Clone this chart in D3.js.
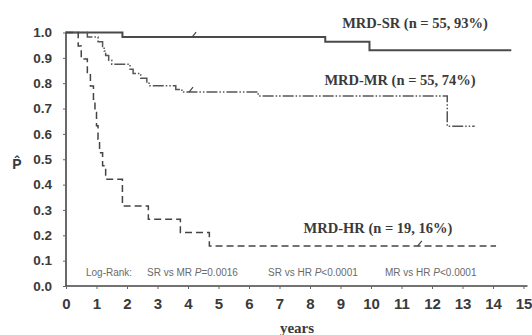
<!DOCTYPE html>
<html>
<head>
<meta charset="utf-8">
<script src="https://cdn.jsdelivr.net/npm/d3@7"></script>
<style>
  html, body { margin: 0; padding: 0; background: #fff; }
  svg { display: block; }
</style>
</head>
<body>
<svg id="chart" width="532" height="335"></svg>
<script>
// ---- data ----
const xTicks = [0,1,2,3,4,5,6,7,8,9,10,11,12,13,14,15];
const yTicks = [0.0,0.1,0.2,0.3,0.4,0.5,0.6,0.7,0.8,0.9,1.0];

const srTimes = [0, 1.85, 8.5, 9.95, 14.6];
const srSurv  = [1.0, 0.982, 0.964, 0.93, 0.93];
const srCensor = [[4.2, 0.982]];

const mrTimes = [0, 0.7, 1.05, 1.2, 1.25, 1.3, 1.4, 1.5, 2.1, 2.2, 2.45, 2.65, 2.75, 3.6, 3.8, 6.3, 12.5, 13.4];
const mrSurv  = [1.0, 0.982, 0.964, 0.945, 0.927, 0.909, 0.891, 0.875, 0.855, 0.838, 0.82, 0.80, 0.79, 0.775, 0.765, 0.75, 0.63, 0.63];
const mrCensor = [[4.1, 0.765]];

const hrTimes = [0, 0.4, 0.5, 0.7, 0.8, 0.9, 0.95, 1.0, 1.05, 1.1, 1.2, 1.3, 1.85, 2.7, 3.75, 4.7, 14.1];
const hrSurv  = [1.0, 0.947, 0.895, 0.842, 0.789, 0.737, 0.684, 0.632, 0.579, 0.526, 0.474, 0.421, 0.316, 0.263, 0.211, 0.158, 0.158];
const hrCensor = [[11.6, 0.158]];

const groupLabels = ["MRD-SR (n = 55, 93%)", "MRD-MR (n = 55, 74%)", "MRD-HR (n = 19, 16%)"];
const xTitle = "years";
const noteLead = "Log-Rank:";
const comparisons = ["SR vs MR ", "SR vs HR ", "MR vs HR "];
const pValues = ["=0.0016", "<0.0001", "<0.0001"];

// ---- layout ----
const svg = d3.select("#chart");
const x = d3.scaleLinear().domain([0, 15]).range([66, 523.5]);
const y = d3.scaleLinear().domain([0, 1]).range([286, 32.5]);

const ink = "#3a3a3a";

// axes
const xAxis = d3.axisBottom(x).tickValues(xTicks).tickSize(3).tickPadding(9).tickFormat(d3.format("d"));
const gx = svg.append("g").attr("transform", `translate(0,${y(0)})`).call(xAxis);
gx.select(".domain").attr("d", `M${x(0)},0H${x(15)+4}`).attr("stroke", "#444").attr("stroke-width", 1.6);
gx.selectAll(".tick line").attr("stroke", "#666").attr("stroke-width", 1);
gx.selectAll(".tick text").attr("font-family", "Liberation Sans, Arial, sans-serif")
  .attr("font-weight", "bold").attr("font-size", 15).attr("fill", ink);

const yAxis = d3.axisLeft(y).tickValues(yTicks).tickSize(3).tickPadding(11).tickFormat(d3.format(".1f"));
const gy = svg.append("g").attr("transform", `translate(${x(0)},0)`).call(yAxis);
gy.select(".domain").attr("d", `M0,${y(0)}V${y(1)-1}`).attr("stroke", "#444").attr("stroke-width", 1.6);
gy.selectAll(".tick line").attr("stroke", "#666").attr("stroke-width", 1);
gy.selectAll(".tick text").attr("font-family", "Liberation Sans, Arial, sans-serif")
  .attr("font-weight", "bold").attr("font-size", 13.5).attr("fill", ink);

// y title  P-hat
svg.append("text").attr("x", 17).attr("y", 169).attr("text-anchor", "middle")
  .attr("font-family", "Liberation Sans, Arial, sans-serif").attr("font-weight", "bold")
  .attr("font-size", 14).attr("fill", ink).text("P\u0302");

// x title
svg.append("text").attr("x", 297).attr("y", 333).attr("text-anchor", "middle")
  .attr("font-family", "Liberation Serif, Times New Roman, serif").attr("font-weight", "bold")
  .attr("font-size", 15).attr("fill", ink).text(xTitle);

// curves
const line = d3.line().x(d => x(d[0])).y(d => y(d[1])).curve(d3.curveStepAfter);
const zip = (t, s) => t.map((v, i) => [v, s[i]]);

svg.append("path").datum(zip(srTimes, srSurv)).attr("d", line)
  .attr("fill", "none").attr("stroke", "#4a4a4a").attr("stroke-width", 2);
svg.append("path").datum(zip(mrTimes, mrSurv)).attr("d", line)
  .attr("fill", "none").attr("stroke", "#555").attr("stroke-width", 1.5)
  .attr("stroke-dasharray", "11,2,1.5,2,1.5,2");
svg.append("path").datum(zip(hrTimes, hrSurv)).attr("d", line)
  .attr("fill", "none").attr("stroke", "#444").attr("stroke-width", 1.5)
  .attr("stroke-dasharray", "7,4");

// censor marks
const cens = srCensor.concat(mrCensor, hrCensor);
svg.selectAll("line.cens").data(cens).enter().append("line").attr("class", "cens")
  .attr("x1", d => x(d[0]) - 2).attr("y1", d => y(d[1]))
  .attr("x2", d => x(d[0]) + 2).attr("y2", d => y(d[1]) - 5)
  .attr("stroke", "#444").attr("stroke-width", 1.2);

// group labels
const labelPos = [[415, 28], [400, 85], [378, 233]];
svg.selectAll("text.grp").data(groupLabels).enter().append("text").attr("class", "grp")
  .attr("x", (d, i) => labelPos[i][0]).attr("y", (d, i) => labelPos[i][1])
  .attr("text-anchor", "middle")
  .attr("font-family", "Liberation Serif, Times New Roman, serif").attr("font-weight", "bold")
  .attr("font-size", 14.5).attr("fill", ink).text(d => d);

// log-rank note
const noteFont = {family: "Liberation Sans, Arial, sans-serif", size: 10, fill: "#6a6a6a"};
svg.append("text").attr("x", 86).attr("y", 276)
  .attr("font-family", noteFont.family).attr("font-size", noteFont.size).attr("fill", noteFont.fill)
  .text(noteLead);
const noteX = [147, 268, 385];
comparisons.forEach((c, i) => {
  const t = svg.append("text").attr("x", noteX[i]).attr("y", 276)
    .attr("font-family", noteFont.family).attr("font-size", noteFont.size).attr("fill", noteFont.fill);
  t.append("tspan").text(c);
  t.append("tspan").attr("font-style", "italic").text("P");
  t.append("tspan").text(pValues[i]);
});
</script>
</body>
</html>
